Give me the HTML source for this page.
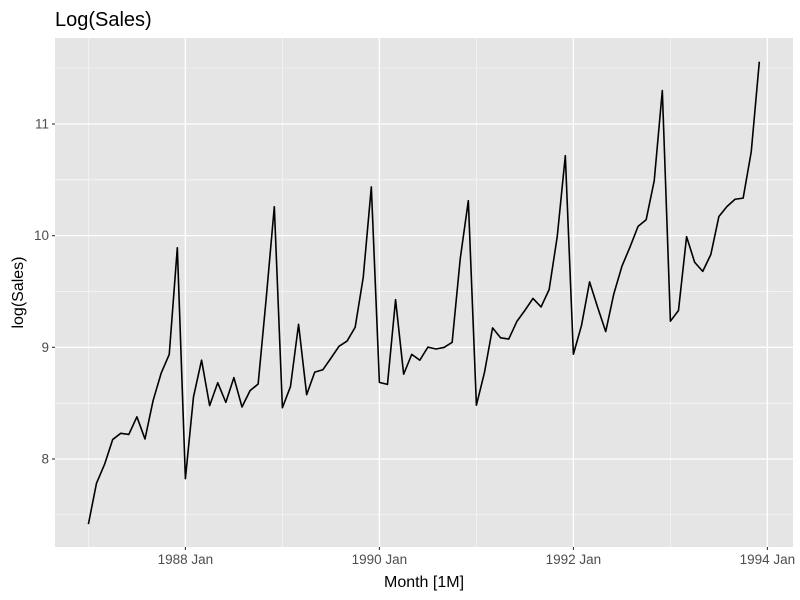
<!DOCTYPE html>
<html><head><meta charset="utf-8"><style>
body{margin:0;background:#fff;}
svg{display:block;font-family:"Liberation Sans",sans-serif;}
</style></head><body>
<svg id="c" width="800" height="600"></svg>
<script>
const logSales1987=[7.417,7.782,7.952,8.174,8.230,8.220,8.378,8.179,8.522,8.768,8.936,9.891];
const logSales1988=[7.824,8.556,8.885,8.478,8.683,8.507,8.729,8.466,8.612,8.672,9.441,10.259];
const logSales1989=[8.459,8.649,9.206,8.576,8.778,8.799,8.902,9.009,9.056,9.179,9.626,10.436];
const logSales1990=[8.686,8.668,9.427,8.759,8.937,8.885,9.002,8.985,8.999,9.045,9.793,10.313];
const logSales1991=[8.482,8.775,9.174,9.085,9.074,9.231,9.331,9.438,9.362,9.518,9.991,10.716];
const logSales1992=[8.938,9.195,9.586,9.358,9.141,9.479,9.725,9.898,10.083,10.142,10.492,11.299];
const logSales1993=[9.234,9.330,9.991,9.762,9.680,9.831,10.172,10.261,10.326,10.336,10.750,11.558];
const values=[].concat(logSales1987,logSales1988,logSales1989,logSales1990,logSales1991,logSales1992,logSales1993);
const startYear=1987;
const yTicks=[8,9,10,11];
const xTickYears=[1988,1990,1992,1994];
const xTickLabels=["1988 Jan","1990 Jan","1992 Jan","1994 Jan"];

const L=55,R=793,T=38,B=547;
function xs(m){return 88.4+m*(194/24);}
function ys(v){return 459-(v-8)*111.67;}
const NS="http://www.w3.org/2000/svg";
const svg=document.getElementById('c');
function el(tag,attrs,parent){const e=document.createElementNS(NS,tag);for(const k in attrs)e.setAttribute(k,attrs[k]);(parent||svg).appendChild(e);return e;}

const panel=el('rect',{x:L,y:T,width:R-L,height:B-T,fill:'#e5e5e5'});



for(let yr=1987;yr<=1993;yr+=2){const x=xs((yr-startYear)*12);const g=el('line',{x1:x,x2:x,y1:T,y2:B,stroke:'#f4f4f4','stroke-width':0.8});

}
for(let i=0;i<yTicks.length;i++){[yTicks[i]-0.5,yTicks[i]+0.5].forEach(v=>{const y=ys(v);if(y<T||y>B)return;const g=el('line',{x1:L,x2:R,y1:y,y2:y,stroke:'#f4f4f4','stroke-width':0.8});

});}
yTicks.forEach(v=>{const y=ys(v);
const g=el('line',{x1:L,x2:R,y1:y,y2:y,stroke:'#fff','stroke-width':1.3});


el('line',{x1:L-3,x2:L,y1:y,y2:y,stroke:'#333','stroke-width':1.1});
const t=el('text',{x:L-6,y:y+4.5,'text-anchor':'end','font-size':'13.5',fill:'#4d4d4d'});t.textContent=v;

});
xTickYears.forEach((yr,i)=>{const x=xs((yr-startYear)*12);
const g=el('line',{x1:x,x2:x,y1:T,y2:B,stroke:'#fff','stroke-width':1.3});


el('line',{x1:x,x2:x,y1:B,y2:B+3,stroke:'#333','stroke-width':1.1});
const t=el('text',{x:x,y:B+17,'text-anchor':'middle','font-size':'13.5',fill:'#4d4d4d'});t.textContent=xTickLabels[i];

});

const line=el('polyline',{points:values.map((v,i)=>xs(i).toFixed(2)+','+ys(v).toFixed(2)).join(' '),fill:'none',stroke:'#000','stroke-width':1.6,'stroke-linejoin':'round'});



const title=el('text',{x:L,y:26,'font-size':'20',fill:'#000'});title.textContent='Log(Sales)';


const xl=el('text',{x:(L+R)/2,y:587,'text-anchor':'middle','font-size':'16',fill:'#000'});xl.textContent='Month [1M]';


const yl=el('text',{x:0,y:0,'text-anchor':'middle','font-size':'16',fill:'#000',transform:'translate(23,'+((T+B)/2)+') rotate(-90)'});yl.textContent='log(Sales)';


</script>
</body></html>
